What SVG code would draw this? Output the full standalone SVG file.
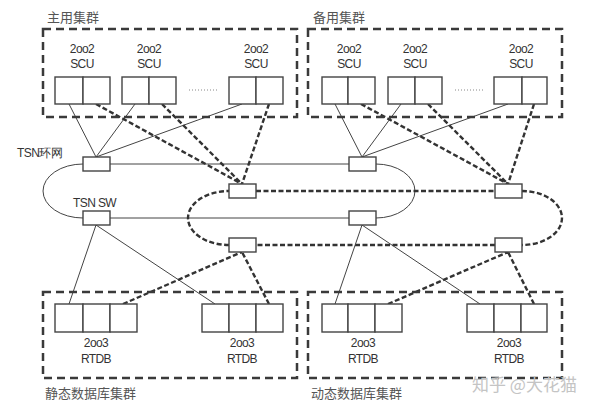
<svg xmlns="http://www.w3.org/2000/svg" width="600" height="409" viewBox="0 0 600 409">
<style>
.cl{fill:none;stroke:#3a3a3a;stroke-width:2.5;stroke-dasharray:8 5}
.bx{fill:#fff;stroke:#444;stroke-width:1.4}
.sw{fill:#fff;stroke:#444;stroke-width:1.4}
.s{fill:none;stroke:#444;stroke-width:1}
.d{fill:none;stroke:#333;stroke-width:2.4;stroke-dasharray:5 2.5}
.lb{font-family:"Liberation Sans",Arial,sans-serif;font-size:12px;fill:#333;text-anchor:middle;letter-spacing:-0.6px}
.tt{font-family:"Noto Sans CJK SC",sans-serif;font-size:13px;fill:#555}
.dots{fill:none;stroke:#888;stroke-width:1;stroke-dasharray:1 2}
</style>
<rect width="600" height="409" fill="#fff"/>
<g id="connectors">
<path class="s" d="M109,164 H349 M376,164 A39,27 0 0 1 376,218 M349,218 H109 M83,218 A40,27 0 0 1 83,164"/>
<path class="d" d="M256,191 H495 M522,191 A40,27 0 0 1 522,245 M495,245 H256 M229,245 A41,27 0 0 1 229,191"/>
<path class="s" d="M69,104 L96,157 M135,104 L96,157 M242,104 L96,157"/>
<path class="d" d="M96,104 L242,184 M162,104 L242,184 M269,104 L242,184"/>
<path class="s" d="M335,104 L362,157 M401,104 L362,157 M508,104 L362,157"/>
<path class="d" d="M361,104 L508,184 M428,104 L508,184 M534,104 L508,184"/>
<path class="s" d="M69,304 L96,225 M215,304 L96,225"/>
<path class="d" d="M123,304 L242,252 M269,304 L242,252"/>
<path class="s" d="M335,304 L362,225 M480,304 L362,225"/>
<path class="d" d="M388,304 L508,252 M534,304 L508,252"/>
</g>
<g id="cluster-main">
<rect class="cl" x="43" y="29" width="254" height="88"/>
<text class="tt" x="47" y="22">主用集群</text>
</g>
<g id="cluster-backup">
<rect class="cl" x="308" y="29" width="254" height="88"/>
<text class="tt" x="313" y="22">备用集群</text>
</g>
<g id="cluster-static">
<rect class="cl" x="43" y="292" width="254" height="86"/>
<text class="tt" x="45" y="398">静态数据库集群</text>
</g>
<g id="cluster-dynamic">
<rect class="cl" x="308" y="292" width="254" height="86"/>
<text class="tt" x="311" y="398">动态数据库集群</text>
</g>
<g id="scu-m1"><rect class="bx" x="55" y="77" width="28" height="27"/><rect class="bx" x="83" y="77" width="27" height="27"/><text class="lb" x="82" y="53">2oo2</text><text class="lb" x="82" y="68">SCU</text></g>
<g id="scu-m2"><rect class="bx" x="122" y="77" width="27" height="27"/><rect class="bx" x="149" y="77" width="27" height="27"/><text class="lb" x="149" y="53">2oo2</text><text class="lb" x="149" y="68">SCU</text></g>
<g id="scu-m3"><rect class="bx" x="229" y="77" width="27" height="27"/><rect class="bx" x="256" y="77" width="27" height="27"/><text class="lb" x="256" y="53">2oo2</text><text class="lb" x="256" y="68">SCU</text></g>
<line class="dots" x1="189" y1="90" x2="218" y2="90"/>
<g id="scu-b1"><rect class="bx" x="322" y="77" width="26" height="27"/><rect class="bx" x="348" y="77" width="27" height="27"/><text class="lb" x="349" y="53">2oo2</text><text class="lb" x="349" y="68">SCU</text></g>
<g id="scu-b2"><rect class="bx" x="388" y="77" width="27" height="27"/><rect class="bx" x="415" y="77" width="27" height="27"/><text class="lb" x="415" y="53">2oo2</text><text class="lb" x="415" y="68">SCU</text></g>
<g id="scu-b3"><rect class="bx" x="494" y="77" width="28" height="27"/><rect class="bx" x="522" y="77" width="25" height="27"/><text class="lb" x="521" y="53">2oo2</text><text class="lb" x="521" y="68">SCU</text></g>
<line class="dots" x1="455" y1="90" x2="484" y2="90"/>
<g id="sw-l1"><rect class="sw" x="83" y="157" width="27" height="14"/></g>
<g id="sw-l2"><rect class="sw" x="83" y="211" width="27" height="14"/></g>
<g id="sw-r1"><rect class="sw" x="349" y="157" width="27" height="14"/></g>
<g id="sw-r2"><rect class="sw" x="349" y="211" width="27" height="14"/></g>
<g id="sw-dl1"><rect class="sw" x="229" y="184" width="27" height="14"/></g>
<g id="sw-dl2"><rect class="sw" x="229" y="238" width="27" height="14"/></g>
<g id="sw-dr1"><rect class="sw" x="495" y="184" width="27" height="14"/></g>
<g id="sw-dr2"><rect class="sw" x="495" y="238" width="27" height="14"/></g>
<text class="lb" x="17" y="157" style="text-anchor:start">TSN环网</text>
<text class="lb" x="73" y="207" style="text-anchor:start">TSN SW</text>
<g id="rtdb-s1"><rect class="bx" x="55" y="304" width="28" height="28"/><rect class="bx" x="83" y="304" width="27" height="28"/><rect class="bx" x="110" y="304" width="27" height="28"/><text class="lb" x="96" y="347">2oo3</text><text class="lb" x="96" y="363">RTDB</text></g>
<g id="rtdb-s2"><rect class="bx" x="202" y="304" width="27" height="28"/><rect class="bx" x="229" y="304" width="27" height="28"/><rect class="bx" x="256" y="304" width="27" height="28"/><text class="lb" x="242" y="347">2oo3</text><text class="lb" x="242" y="363">RTDB</text></g>
<g id="rtdb-d1"><rect class="bx" x="322" y="304" width="26" height="28"/><rect class="bx" x="348" y="304" width="27" height="28"/><rect class="bx" x="375" y="304" width="27" height="28"/><text class="lb" x="363" y="347">2oo3</text><text class="lb" x="363" y="363">RTDB</text></g>
<g id="rtdb-d2"><rect class="bx" x="467" y="304" width="27" height="28"/><rect class="bx" x="494" y="304" width="27" height="28"/><rect class="bx" x="521" y="304" width="26" height="28"/><text class="lb" x="509" y="347">2oo3</text><text class="lb" x="509" y="363">RTDB</text></g>
<text x="472" y="391" style="font-family:'Noto Sans CJK SC',sans-serif;font-size:17px;fill:#c4c4c4">知乎 @大花猫</text>
</svg>
